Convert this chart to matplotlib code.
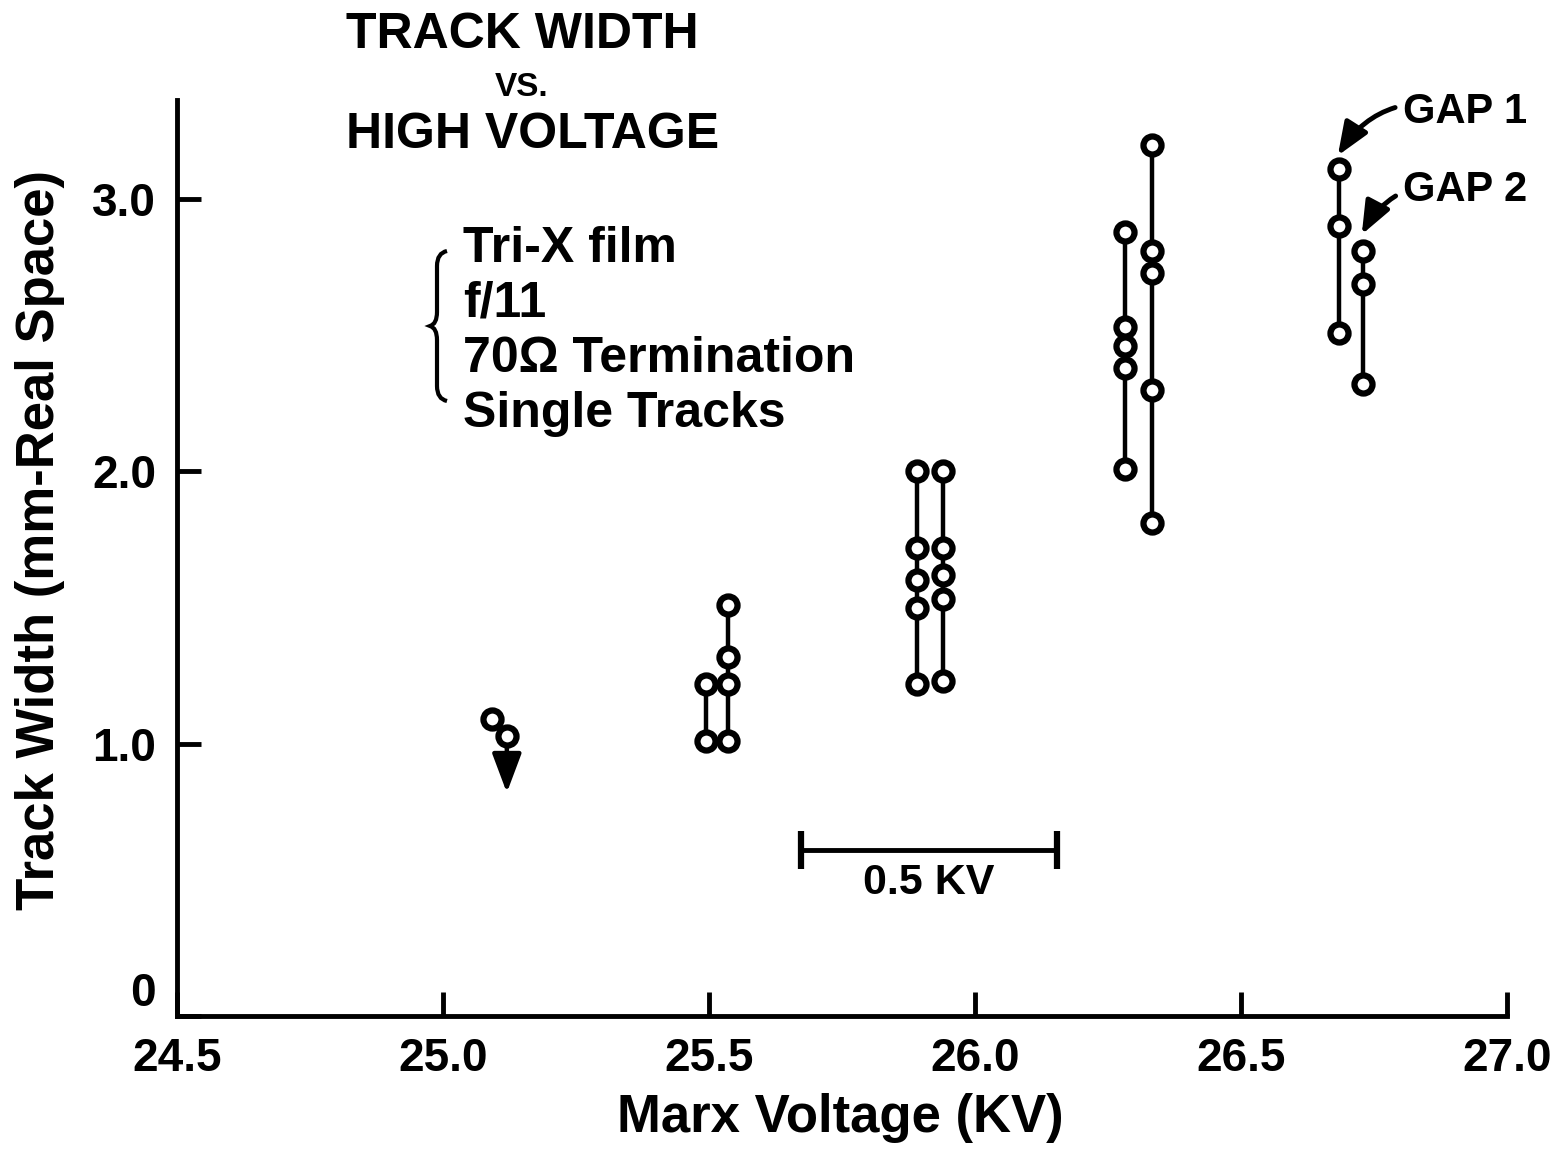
import matplotlib
matplotlib.use('Agg')
import matplotlib.pyplot as plt
from matplotlib.path import Path
import matplotlib.patches as mpatches

plt.rcParams['font.family'] = ['Liberation Sans', 'DejaVu Sans']
plt.rcParams['font.weight'] = 'bold'

# ── data: each column is one vertical string of measurements ─────────────
COL_KV = [25.092, 25.120, 25.494, 25.536, 25.891, 25.940,
          26.282, 26.333, 26.684, 26.729]
COL_WIDTH = [
    [1.09],
    [1.03],
    [1.22, 1.01],
    [1.51, 1.32, 1.22, 1.01],
    [2.00, 1.72, 1.60, 1.50, 1.22],
    [2.00, 1.72, 1.62, 1.53, 1.23],
    [2.88, 2.53, 2.46, 2.38, 2.01],
    [3.20, 2.81, 2.73, 2.30, 1.81],
    [3.11, 2.90, 2.51],
    [2.81, 2.69, 2.32],
]
LIMIT_KV, LIMIT_FROM, LIMIT_TO = 25.120, 1.03, 0.82   # upper-limit arrow
GAP_LABELS = ['GAP 1', 'GAP 2']
GAP_TIP = [(26.682, 3.16), (26.727, 2.87)]
SCALE_BAR = (25.672, 26.154)
NOTES = ['Tri-X film', 'f/11', '70\u03a9 Termination', 'Single Tracks']
XTICKS = [24.5, 25.0, 25.5, 26.0, 26.5, 27.0]
YTICKS = [0, 1, 2, 3]
YTICKLABELS = ['0', '1.0', '2.0', '3.0']

W, H = 1564, 1154
fig = plt.figure(figsize=(W / 100, H / 100), dpi=100)
ax = fig.add_axes([177 / W, 1 - 1016 / H, 1330 / W, 916 / H])

# upper-limit arrow under the circle
ax.annotate('', xy=(LIMIT_KV, LIMIT_TO), xytext=(LIMIT_KV, LIMIT_FROM),
            arrowprops=dict(arrowstyle='-|>,head_length=1.2,head_width=0.45',
                            lw=3.2, color='black', shrinkA=0, shrinkB=0,
                            mutation_scale=20), zorder=2)

for kv, ys in zip(COL_KV, COL_WIDTH):
    ax.plot([kv] * len(ys), ys, '-o', color='black', lw=3.2, ms=13,
            mfc='white', mec='black', mew=4.5, zorder=3)

# GAP labels with curved arrows
for lab, tip, ty in zip(GAP_LABELS, GAP_TIP, [3.32, 3.035]):
    ax.annotate(lab, xy=tip, xytext=(26.805, ty), fontsize=30,
                fontweight='bold', ha='left', va='center',
                arrowprops=dict(arrowstyle='-|>,head_length=1.0,head_width=0.4',
                                connectionstyle='arc3,rad=0.4', lw=3.5,
                                color='black', shrinkA=4, shrinkB=0,
                                mutation_scale=20))

# 0.5 KV scale bar
ax.plot(SCALE_BAR, [0.61, 0.61], color='black', lw=3.5)
ax.plot(SCALE_BAR, [0.61, 0.61], ls='none', marker='|', ms=28, mew=4.5,
        color='black')
ax.text(sum(SCALE_BAR) / 2, 0.488, '0.5 KV', fontsize=31, fontweight='bold',
        ha='center', va='center')

ax.set_xlim(24.5, 27.0)
ax.set_ylim(0, 3.364)
ax.set_xticks(XTICKS)
ax.set_xticklabels([f'{v:.1f}' for v in XTICKS])
ax.set_yticks(YTICKS)
ax.set_yticklabels(YTICKLABELS)
ax.tick_params(direction='in', length=17, width=3.5, labelsize=33)
ax.tick_params(axis='x', pad=15)
ax.tick_params(axis='y', pad=15)
# the "0" sits just above the x axis, as in the original
ax.get_yticklabels()[0].set_verticalalignment('bottom')
for s in ['top', 'right']:
    ax.spines[s].set_visible(False)
for s in ['left', 'bottom']:
    ax.spines[s].set_linewidth(3.5)

ax.set_xlabel('Marx Voltage (KV)', fontsize=38, fontweight='bold', va='center')
ax.xaxis.set_label_coords(0.4985, -0.111)
ax.set_ylabel('Track Width (mm-Real Space)', fontsize=38, fontweight='bold',
              va='center')
ax.yaxis.set_label_coords(-0.103, 0.52)

# title block
fig.text(522 / W, 1 - 35 / H, 'TRACK WIDTH', fontsize=36, fontweight='bold',
         ha='center', va='center')
fig.text(522 / W, 1 - 88 / H, 'VS.', fontsize=24, fontweight='bold',
         ha='center', va='center')
fig.text(533 / W, 1 - 135 / H, 'HIGH VOLTAGE', fontsize=36, fontweight='bold',
         ha='center', va='center')

# notes with a brace
for i, t in enumerate(NOTES):
    fig.text(463 / W, 1 - (249 + 55 * i) / H, t, fontsize=36,
             fontweight='bold', ha='left', va='center')

pts = [(447, 251), (437, 253), (437, 266),
       (437, 312),
       (437, 324), (430, 326),
       (437, 328), (437, 340),
       (437, 386),
       (437, 399), (447, 401)]
codes = [Path.MOVETO, Path.CURVE3, Path.CURVE3,
         Path.LINETO,
         Path.CURVE3, Path.CURVE3,
         Path.CURVE3, Path.CURVE3,
         Path.LINETO,
         Path.CURVE3, Path.CURVE3]
brace = Path([(x / W, 1 - y / H) for x, y in pts], codes)
fig.patches.append(mpatches.PathPatch(brace, fill=False, lw=3,
                                      edgecolor='black',
                                      transform=fig.transFigure))

fig.savefig('out.png', dpi=100)
